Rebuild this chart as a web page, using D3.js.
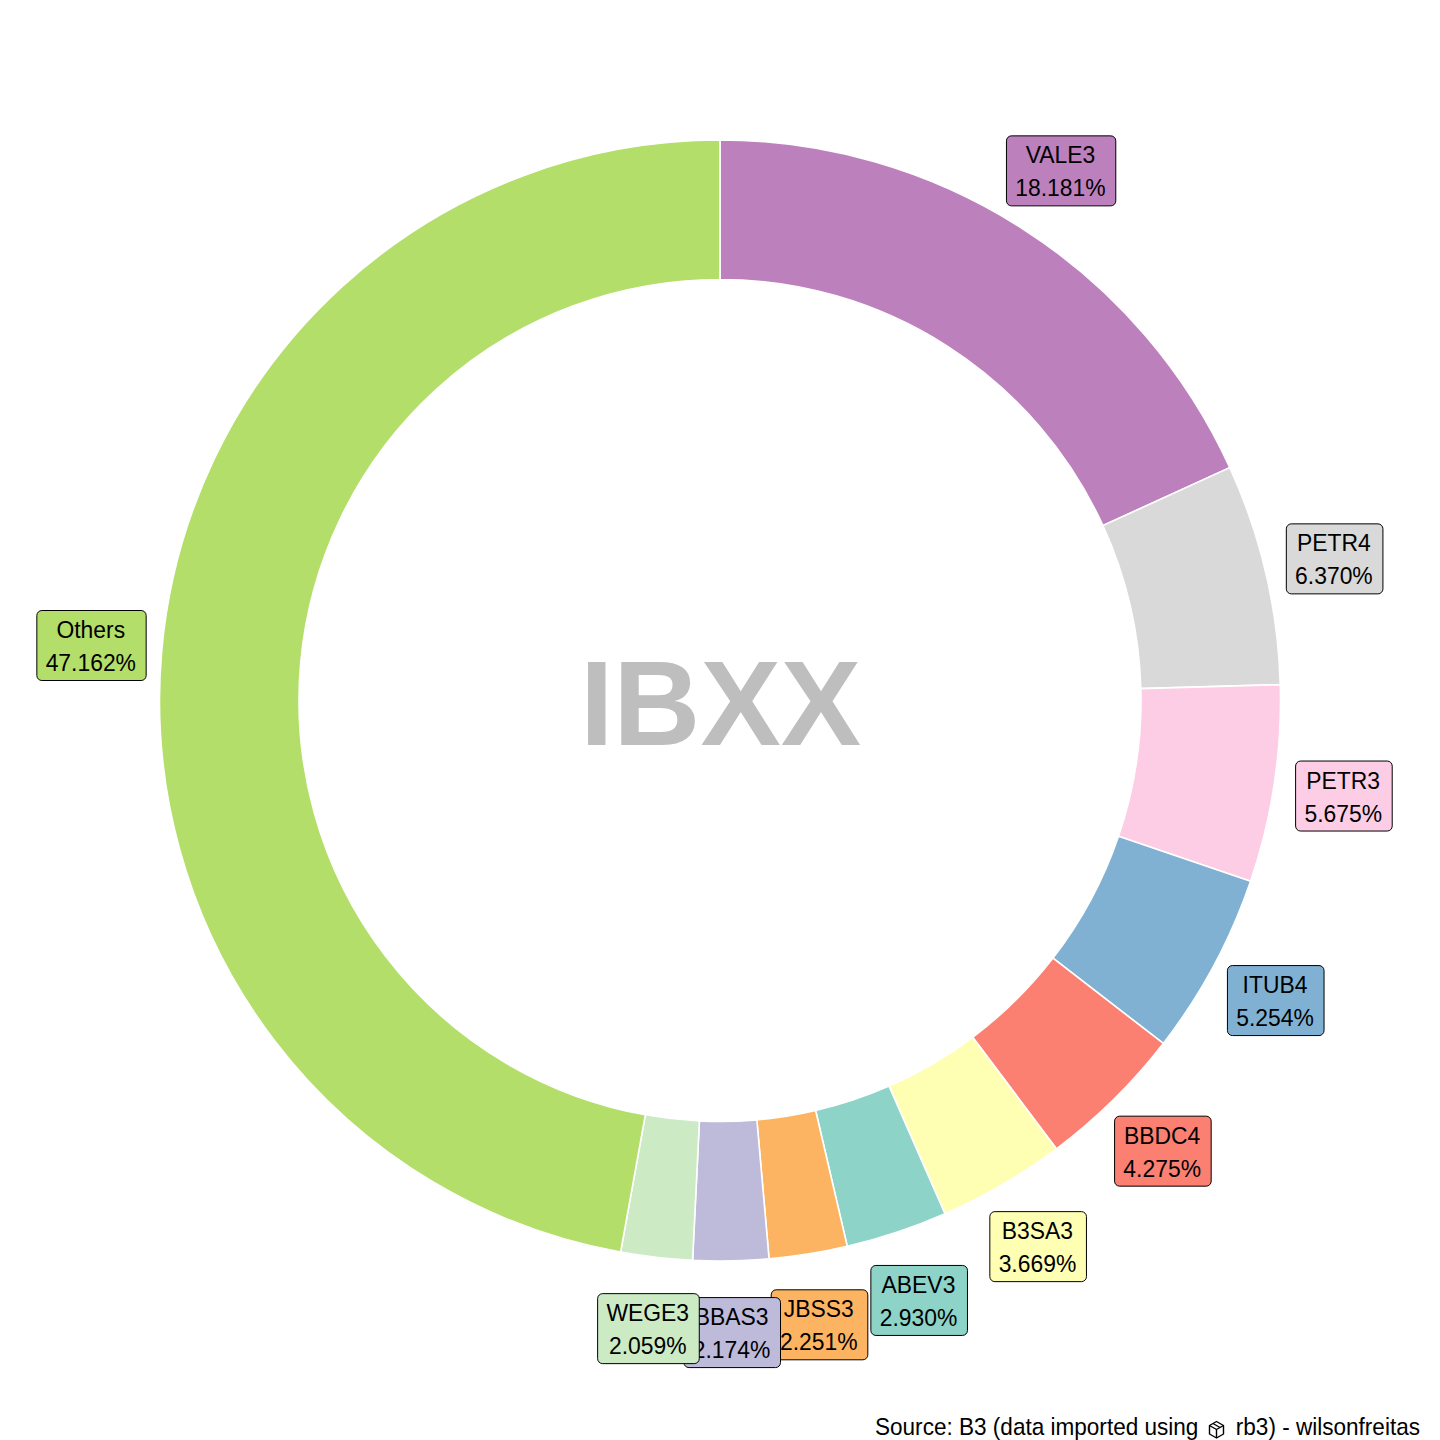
<!DOCTYPE html>
<html>
<head>
<meta charset="utf-8">
<script src="https://cdn.jsdelivr.net/npm/d3@7"></script>
<style>
html,body{margin:0;padding:0;background:#fff}
svg{display:block}
text{font-family:"Liberation Sans",Arial,sans-serif}
</style>
</head>
<body>
<svg id="chart" width="1440" height="1440"></svg>
<script>
const tickers = ["VALE3","PETR4","PETR3","ITUB4","BBDC4","B3SA3","ABEV3","JBSS3","BBAS3","WEGE3","Others"];
const weights = [18.181,6.370,5.675,5.254,4.275,3.669,2.930,2.251,2.174,2.059,47.162];
const fills = ["#BC80BD","#D9D9D9","#FCCDE5","#80B1D3","#FB8072","#FFFFB3","#8DD3C7","#FDB462","#BEBADA","#CCEBC5","#B3DE69"];
const centerTitle = "IBXX";
const captionLeft = "Source: B3 (data imported using";
const captionRight = "rb3) - wilsonfreitas";

const svg = d3.select("#chart");
const cx = 720, cy = 700.5;
const g = svg.append("g").attr("transform", `translate(${cx},${cy})`);
const rows = tickers.map((t,i)=>({ticker:t,value:weights[i],fill:fills[i]}));
const pie = d3.pie().value(d=>d.value).sort(null);
const arcs = pie(rows);
const ring = d3.arc().innerRadius(421).outerRadius(560.5);
const labelArc = d3.arc().innerRadius(631).outerRadius(631);

g.selectAll("path.slice").data(arcs).join("path")
  .attr("class","slice").attr("d",ring)
  .attr("fill",d=>d.data.fill).attr("stroke","#fff").attr("stroke-width",1.6);

g.append("text").text(centerTitle)
  .attr("x",0.5).attr("y",44.5).attr("text-anchor","middle")
  .attr("font-size",120.5).attr("font-weight","bold").attr("fill","#BEBEBE");

const fs = 24, sx = 0.954, capSx = 0.94;
const labels = g.selectAll("g.lab").data(arcs).join("g").attr("class","lab")
  .attr("transform",d=>{const c=labelArc.centroid(d);return `translate(${c[0]},${c[1]+1.2})`;});
labels.each(function(d){
  const s = d3.select(this);
  const rect = s.append("rect");
  const t1 = s.append("text").text(d.data.ticker).attr("text-anchor","middle")
    .attr("transform",`translate(-0.7,-7.5) scale(${sx},1)`).attr("font-size",fs).attr("fill","#000");
  const t2 = s.append("text").text(d.data.value.toFixed(3)+"%").attr("text-anchor","middle")
    .attr("transform",`translate(-0.7,25.5) scale(${sx},1)`).attr("font-size",fs).attr("fill","#000");
  const w = Math.max(t1.node().getComputedTextLength(),t2.node().getComputedTextLength())*sx+19;
  rect.attr("x",-w/2).attr("y",-35).attr("width",w).attr("height",70).attr("rx",5)
    .attr("fill",d.data.fill).attr("stroke","#000").attr("stroke-width",1);
});

svg.append("text").text(captionLeft).attr("transform",`translate(875,1435) scale(${capSx},1)`).attr("font-size",fs).attr("fill","#000");
svg.append("text").text(captionRight).attr("transform",`translate(1420,1435) scale(${capSx},1)`).attr("text-anchor","end").attr("font-size",fs).attr("fill","#000");
const icon = svg.append("g").attr("transform","translate(1216.5,1429.5)")
  .attr("fill","none").attr("stroke","#000").attr("stroke-width",1.4).attr("stroke-linejoin","round");
icon.append("path").attr("d","M0,-8 L7,-4 L7,4.5 L0,8.5 L-7,4.5 L-7,-4 Z");
icon.append("path").attr("d","M-7,-4 L0,0 L7,-4 M0,0 L0,8.5 M-3.5,-6 L3.5,-2");
</script>
</body>
</html>
